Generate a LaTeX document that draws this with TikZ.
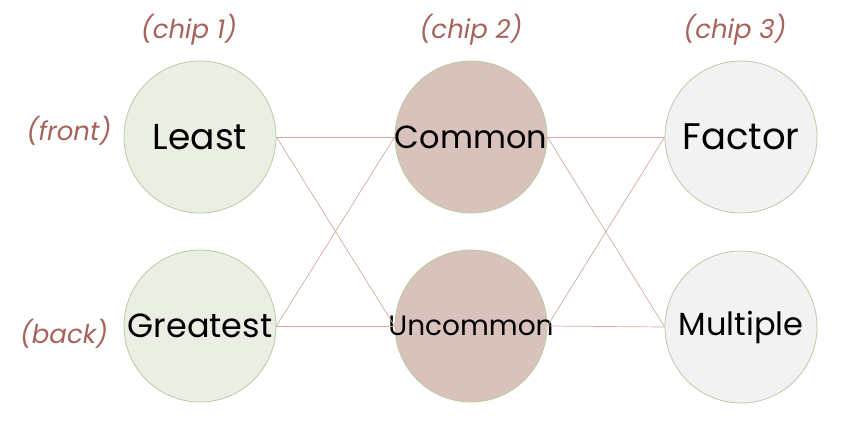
\documentclass[tikz,border=0pt]{standalone}
\usepackage{fontspec}
\setmainfont{Poppins}
\usepackage{tikz}

\definecolor{labelred}{RGB}{166,99,90}
\definecolor{wirepink}{RGB}{214,168,160}
\definecolor{rimgreen}{RGB}{184,204,160}
\definecolor{fillgreen}{RGB}{234,238,227}
\definecolor{fillrose}{RGB}{217,193,188}
\definecolor{fillgrey}{RGB}{242,242,242}
\newcommand{\word}[1]{\makebox[0pt]{#1}}

\begin{document}
\begin{tikzpicture}
			[x=1pt, y=-1pt, chip/.style ={circle, draw=rimgreen, thick, minimum size=152pt, inner sep=0pt, font=\fontsize{36}{36}\selectfont}, tag/.style ={text=labelred, font=\fontsize{26}{26}\selectfont\itshape}, wire/.style ={draw=wirepink, line width=0.7pt}];
			\useasboundingbox (0,0) rectangle (846,423);
			% labels
			\node [tag] (chipone) at (189,30) {(chip 1)};
			\node [tag] (chiptwo) at (471,30) {(chip 2)};
			\node [tag] (chipthree) at (735,30) {(chip 3)};
			\node [tag] (front) at (69,131) {(front)};
			\node [tag] (back) at (64,334) {(back)};
			% chips
			\node [chip, fill=fillgreen] (least) at (200,137) {\word{Least}};
			\node [chip, fill=fillgreen, font=\fontsize{33.5}{33.5}\selectfont] (greatest) at (200,326) {\word{Greatest}};
			\node [chip, fill=fillrose, font=\fontsize{32}{32}\selectfont] (common) at (471,137) {\word{Common}};
			\node [chip, fill=fillrose, font=\fontsize{28}{28}\selectfont] (uncommon) at (471,326) {\word{Uncommon}};
			\node [chip, fill=fillgrey, font=\fontsize{37}{37}\selectfont] (factor) at (741,137) {\word{Factor}};
			\node [chip, fill=fillgrey, font=\fontsize{32}{32}\selectfont] (multiple) at (741,327) {\word{Multiple}};
			% wires
			\foreach \a in {least,greatest}
				\foreach \b in {common,uncommon}
					\draw [wire] (\a.east) -- (\b.west);
			\foreach \a in {common,uncommon}
				\foreach \b in {factor,multiple}
					\draw [wire] (\a.east) -- (\b.west);
		\end{tikzpicture}
\end{document}
